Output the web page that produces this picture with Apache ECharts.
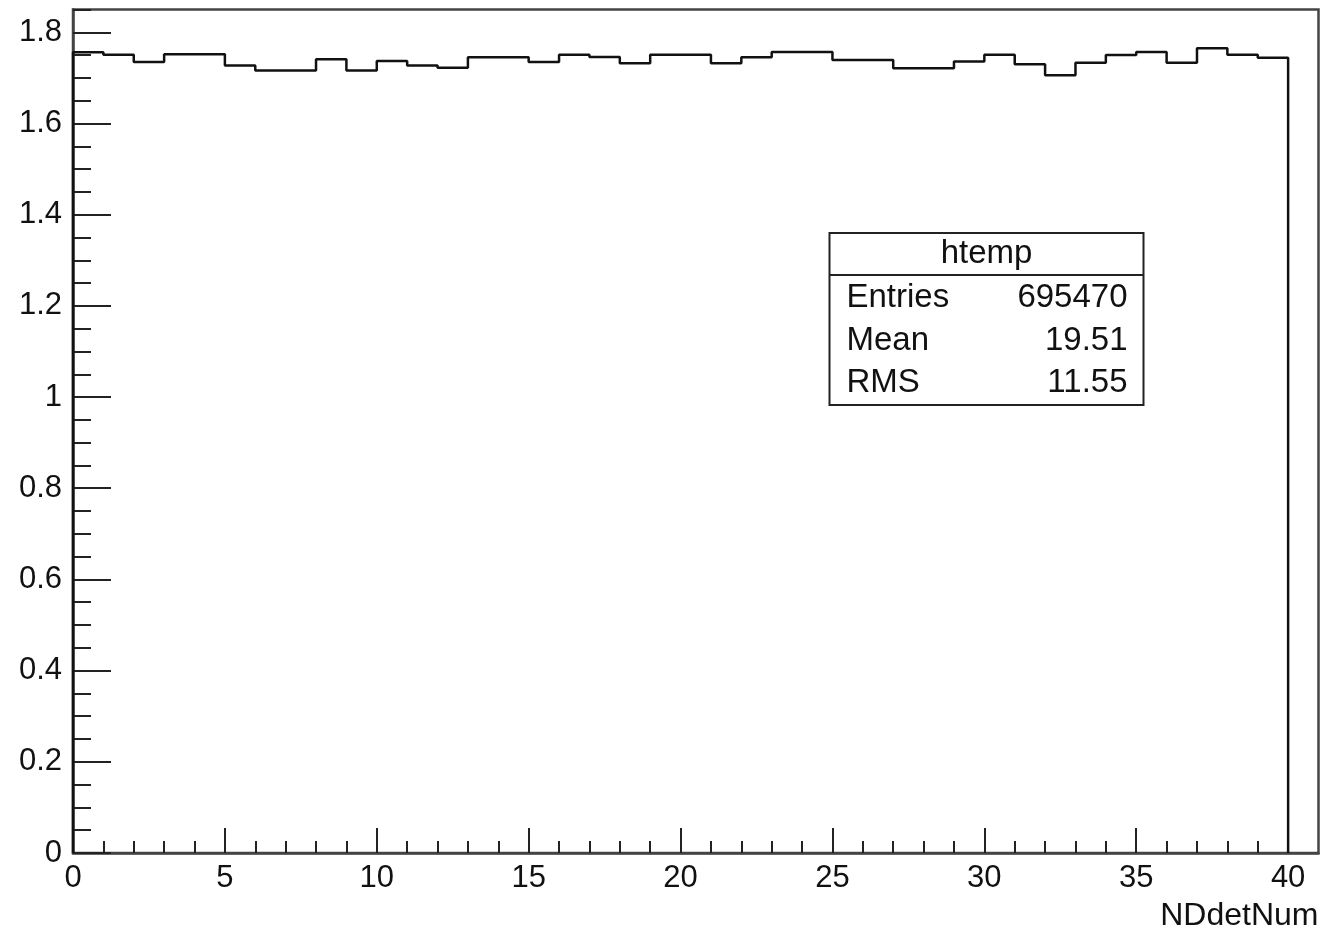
<!DOCTYPE html>
<html>
<head>
<meta charset="utf-8">
<title>NDdetNum</title>
<script src="https://cdn.jsdelivr.net/npm/echarts@6.0.0/dist/echarts.min.js"></script>
<style>
  html, body { margin: 0; padding: 0; background: #fff; }
  #chart { width: 1327px; height: 936px; }
</style>
</head>
<body>
<div id="chart"></div>
<script>
// histogram htemp: 40 bins of width 1 from 0 to 40
var binLow = 0;
var binWidth = 1;
var binValues = [
    1.756, 1.751, 1.735, 1.752, 1.752, 1.727, 1.716, 1.716, 1.741, 1.716,
    1.737, 1.727, 1.722, 1.745, 1.745, 1.735, 1.751, 1.746, 1.732, 1.751,
    1.751, 1.732, 1.745, 1.757, 1.757, 1.739, 1.739, 1.721, 1.721, 1.736,
    1.751, 1.730, 1.706, 1.733, 1.750, 1.757, 1.733, 1.765, 1.751, 1.744
];
var xMajorTicks = [0, 5, 10, 15, 20, 25, 30, 35, 40];
var yMajorTicks = [0, 0.2, 0.4, 0.6, 0.8, 1, 1.2, 1.4, 1.6, 1.8];
var xMax = 41;
var yMax = 1.85;
var statsTitle = 'htemp';
var statsNames = ['Entries', 'Mean', 'RMS'];
var statsValues = ['695470', '19.51', '11.55'];

var FONT = "'Liberation Sans', Arial, Helvetica, sans-serif";
var FRAME = '#444';

// minor ticks: every 1 on x (0..40), every 0.05 on y
var xMinorTicks = [];
for (var i = 0; i <= binValues.length; i++) xMinorTicks.push(binLow + i * binWidth);
var yMinorTicks = [];
for (var j = 0; j <= 37; j++) yMinorTicks.push(Math.round(j * 5) / 100);

// step outline of the histogram
var histData = [[binLow, 0]];
binValues.forEach(function (v, k) {
    histData.push([binLow + k * binWidth, v]);
});
var lastEdge = binLow + binValues.length * binWidth;
histData.push([lastEdge, binValues[binValues.length - 1]]);
histData.push([lastEdge, 0]);

var chart = echarts.init(document.getElementById('chart'));

var option = {
    animation: false,
    backgroundColor: '#fff',
    textStyle: { fontFamily: FONT },
    grid: {
        left: 73, right: 8.5, top: 9.5, bottom: 83,
        show: true,
        borderColor: FRAME,
        borderWidth: 2.5,
        backgroundColor: '#fff'
    },
    xAxis: [
        {
            type: 'value',
            min: 0, max: xMax, interval: 5,
            axisLine: { show: true, lineStyle: { color: FRAME, width: 2.5 } },
            axisTick: { show: true, inside: true, length: 25, customValues: xMajorTicks,
                        lineStyle: { color: '#222', width: 2 } },
            axisLabel: { customValues: xMajorTicks, fontSize: 31, color: '#111', margin: 10,
                         fontFamily: FONT },
            splitLine: { show: false },
            name: 'NDdetNum',
            nameLocation: 'end',
            nameGap: 0,
            nameTextStyle: { fontSize: 32, color: '#111', fontFamily: FONT,
                             align: 'right', verticalAlign: 'top', padding: [47, 0, 0, 0] }
        },
        {
            type: 'value',
            position: 'bottom',
            min: 0, max: xMax, interval: 1,
            axisLine: { show: false },
            axisTick: { show: true, inside: true, length: 12, customValues: xMinorTicks,
                        lineStyle: { color: '#222', width: 2 } },
            axisLabel: { show: false },
            splitLine: { show: false }
        }
    ],
    yAxis: [
        {
            type: 'value',
            min: 0, max: yMax, interval: 0.2,
            axisLine: { show: true, lineStyle: { color: FRAME, width: 2.5 } },
            axisTick: { show: true, inside: true, length: 38, customValues: yMajorTicks,
                        lineStyle: { color: '#222', width: 2 } },
            axisLabel: { customValues: yMajorTicks, fontSize: 31, color: '#111', margin: 11,
                         fontFamily: FONT,
                         formatter: function (v) { return String(Math.round(v * 10) / 10); } },
            splitLine: { show: false }
        },
        {
            type: 'value',
            position: 'left',
            min: 0, max: yMax, interval: 0.05,
            axisLine: { show: false },
            axisTick: { show: true, inside: true, length: 18, customValues: yMinorTicks,
                        lineStyle: { color: '#222', width: 2 } },
            axisLabel: { show: false },
            splitLine: { show: false }
        }
    ],
    series: [
        {
            name: 'htemp',
            type: 'line',
            xAxisIndex: 0,
            yAxisIndex: 0,
            step: 'end',
            showSymbol: false,
            symbol: 'none',
            lineStyle: { color: '#111', width: 2.5 },
            data: histData
        }
    ],
    graphic: [
        {
            type: 'group',
            left: 827, top: 232,
            children: [
                { type: 'rect', shape: { x: 0, y: 0, width: 314, height: 172 },
                  style: { fill: '#fff', stroke: '#222', lineWidth: 2 } },
                { type: 'line', shape: { x1: 0, y1: 42, x2: 314, y2: 42 },
                  style: { stroke: '#222', lineWidth: 2 } },
                { type: 'text', x: 157, y: 21,
                  style: { text: statsTitle, font: '33px ' + FONT, fill: '#111',
                           textAlign: 'center', textVerticalAlign: 'middle' } }
            ].concat(statsNames.map(function (n, k) {
                return { type: 'text', x: 17, y: 65 + k * 42.5,
                         style: { text: n, font: '33px ' + FONT, fill: '#111',
                                  textAlign: 'left', textVerticalAlign: 'middle' } };
            })).concat(statsValues.map(function (s, k) {
                return { type: 'text', x: 298, y: 65 + k * 42.5,
                         style: { text: s, font: '33px ' + FONT, fill: '#111',
                                  textAlign: 'right', textVerticalAlign: 'middle' } };
            }))
        }
    ]
};

chart.setOption(option);
</script>
</body>
</html>
